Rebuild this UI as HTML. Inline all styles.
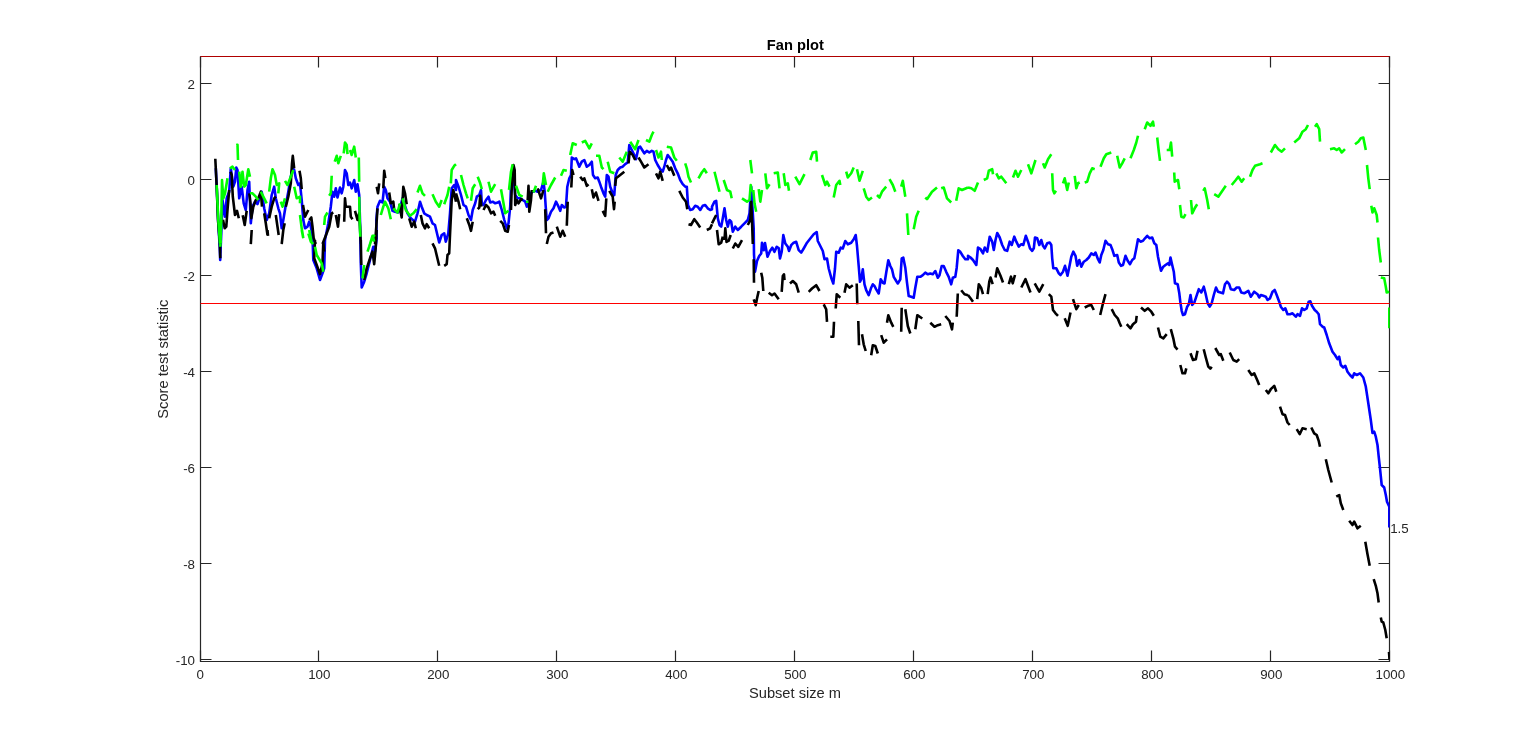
<!DOCTYPE html>
<html lang="en"><head><meta charset="utf-8"><title>Fan plot</title>
<style>html,body{margin:0;padding:0;background:#fff;}body{width:1536px;height:744px;overflow:hidden;}svg{display:block;}text{font-family:"Liberation Sans",Arial,Helvetica,sans-serif;fill:#262626;}</style></head><body>
<svg width="1536" height="744" viewBox="0 0 1536 744">
<rect x="0" y="0" width="1536" height="744" fill="#fff"/>
<g stroke="#262626" stroke-width="1.2" fill="none">
<path d="M200.5 56.5 V661.5 H1389.5 V56.5 H200.5"/>
<path d="M200.5 661.5 v-11 M200.5 56.5 v11"/>
<path d="M318.5 661.5 v-11 M318.5 56.5 v11"/>
<path d="M437.5 661.5 v-11 M437.5 56.5 v11"/>
<path d="M556.5 661.5 v-11 M556.5 56.5 v11"/>
<path d="M675.5 661.5 v-11 M675.5 56.5 v11"/>
<path d="M794.5 661.5 v-11 M794.5 56.5 v11"/>
<path d="M913.5 661.5 v-11 M913.5 56.5 v11"/>
<path d="M1032.5 661.5 v-11 M1032.5 56.5 v11"/>
<path d="M1151.5 661.5 v-11 M1151.5 56.5 v11"/>
<path d="M1270.5 661.5 v-11 M1270.5 56.5 v11"/>
<path d="M1389.5 661.5 v-11 M1389.5 56.5 v11"/>
<path d="M200.5 83.5 h11 M1389.5 83.5 h-11"/>
<path d="M200.5 179.5 h11 M1389.5 179.5 h-11"/>
<path d="M200.5 275.5 h11 M1389.5 275.5 h-11"/>
<path d="M200.5 371.5 h11 M1389.5 371.5 h-11"/>
<path d="M200.5 467.5 h11 M1389.5 467.5 h-11"/>
<path d="M200.5 563.5 h11 M1389.5 563.5 h-11"/>
<path d="M200.5 659.5 h11 M1389.5 659.5 h-11"/>
</g>
<clipPath id="cp"><rect x="200" y="56" width="1189.7" height="605.7"/></clipPath>
<g fill="none" stroke-width="2.6" stroke-linejoin="round" stroke-linecap="butt" clip-path="url(#cp)">
<path stroke="#0000ff" d="M215.8 168.3 L216.7 186.7 L218.3 223.3 L219.7 246.7 L220.2 260 L220.7 246.7 L221.7 223.3 L222.5 200 L225 216.7 L226.7 198.3 L229.2 191.7 L230.8 168.3 L233.3 186.7 L235 181.7 L236.3 167.5 L237.5 170 L239.2 198.3 L241.7 186.7 L243.7 203.3 L245.8 210 L247.5 190 L249.2 181.7 L250.8 223.3 L252.5 206.7 L255 201.7 L257.5 204.2 L261.7 191.7 L264.2 208.3 L266.7 220 L269.2 213.3 L271.7 195 L274.2 186.7 L275.8 198.3 L278.3 208.3 L280 213.3 L281.7 228.3 L283.3 220 L285.8 205 L288.3 191.7 L290.8 176.7 L292.5 168.3 L294.2 170 L295.8 178.3 L298.3 185 L300 183.3 L301.7 200 L303.3 220 L305 228.3 L307.5 226.7 L309.2 221.7 L310.8 226.7 L312.5 236.7 L313.3 260 L316.7 268.3 L320 280 L322.5 273.3 L324.2 268.3 L325 240 L328.3 223.3 L330.8 206.7 L332.5 191.7 L334.2 196.7 L335.8 188.3 L337.5 197.5 L340 187.5 L341.7 193.3 L343.3 186.7 L345 170 L346.7 173.3 L348.3 185 L350 182.5 L351.7 188.3 L354.2 180 L355.8 191.7 L357.5 184.2 L359.2 195 L360 220 L360.8 263.3 L361.7 287.5 L364.2 281.7 L366.7 273.3 L370 260 L373.3 246.7 L375 251.7 L376.7 238.3 L376.3 220 L377.5 206.7 L380 200.8 L382.5 202.5 L384.2 186.7 L385.8 190 L387.5 198.3 L390 201.7 L392.5 210.8 L395 211.7 L398.3 212.5 L400 208.3 L402.5 198.3 L404.2 203.3 L407.5 213.3 L410.8 218.3 L415 221.7 L417.5 213.3 L420 201.7 L421.7 206.7 L424.2 213.3 L426.7 215 L430 216.7 L432.5 223.3 L435 225 L439.2 242.5 L441.7 235 L444.2 233.3 L445.8 241.7 L448.3 233.3 L450 213.3 L451.7 188.3 L454.2 185 L456 190 L456 180 L458.5 186.7 L461 195 L463.5 205 L466 206.7 L468.5 215 L471 220 L472.7 210 L475.2 203.3 L476.8 196.7 L479.3 195 L481 190 L481.8 203.3 L483.5 205 L486 200 L488.5 196.7 L490.2 202.5 L492.7 201.7 L495.2 203.3 L497.7 202.5 L499.3 201.7 L501.8 210 L504.3 220 L506.8 228.3 L508.5 223.3 L510.2 206.7 L511.3 178.3 L513.5 176.7 L515.2 195 L517.7 198.3 L520.2 198.3 L522.7 200 L525.2 201.7 L526.8 206.7 L528.5 203.3 L530.2 193.3 L532.7 191.7 L535.2 190.8 L537.7 191.7 L541 190 L543.5 181.7 L544.7 191.7 L545.7 206.7 L546.8 220 L548.5 218.3 L551 211.7 L553.5 208.3 L556 201.7 L558.5 206.7 L560.2 210.8 L561.8 205 L564.3 207.5 L566 206.7 L567.3 186.7 L569.3 178.3 L571 175 L571.8 157.5 L574.3 159.2 L576 158.3 L579.3 166.7 L581.8 161.7 L584.3 160 L586.8 166.7 L589.3 165 L591.8 161.7 L593 175 L595.2 178.3 L597.7 177.5 L599.3 181.7 L601 186.7 L603.5 193.3 L605.2 196.7 L606.8 175 L608.5 176.7 L610.2 186.7 L612.7 193.3 L614.3 195 L615.7 175 L617.7 170 L620.2 167.5 L622.7 166.7 L625.2 164.2 L627.7 162.5 L629.3 145 L631.8 150 L634.3 155 L636 159.2 L638.5 147.5 L640.2 146.7 L642.7 150.8 L644.3 153.3 L646.8 150.8 L649.3 152.5 L651.8 150.8 L653.5 151.7 L655.2 160 L657.7 165 L660.2 169.2 L662.7 171.7 L664.3 166.7 L666 160 L667.7 155 L670.2 158.3 L672.7 161.7 L675.2 168.3 L677.7 173.3 L680.2 180 L682.7 184.2 L685.2 186.7 L686.8 186.7 L688 205 L690.2 210 L692.7 209.2 L695.2 205.8 L697.7 206.7 L700.2 210 L702.7 205.8 L705.2 205 L707.7 208.3 L710.2 210 L712 209.2 L712 206.7 L714.5 201.7 L716.2 200.8 L717.8 218.3 L719.5 225 L721.2 226.7 L722.8 218.3 L724.5 208.3 L726.2 220 L727.8 226.7 L729.5 220 L731.2 221.7 L732.8 231.7 L735.3 226.7 L737.8 230 L741.2 226.7 L744.5 223.3 L747.8 220 L749.5 213.3 L751.2 186.7 L752.8 213.3 L753.7 228.3 L754 254.3 L755 271.8 L757 261 L759.2 256 L761.2 253.5 L762 242.7 L763.7 250.2 L765 243 L767.5 256.8 L770 251 L772.3 247.7 L774.5 251.8 L776.7 246.8 L778.7 248 L780 258.5 L781.7 251.8 L783.3 235 L785.3 243.5 L787.8 246.8 L789 251 L791.2 245.2 L793.7 242.7 L796.2 241.8 L798.7 250.2 L801.2 252.7 L803.7 248.5 L807 242.7 L810.3 238.5 L813.7 234.3 L816.7 232 L817.8 241 L820.3 246 L822.8 251 L824.5 259.3 L827 258.5 L828.7 268.5 L831.2 277.7 L833.3 283.5 L835 268.5 L836.2 251.8 L838.7 252.7 L840.7 247.7 L842.8 248.5 L845.3 241 L847.8 244.3 L851.2 242.7 L853.7 239.3 L855.7 235 L857 246 L858.7 266 L860 281.8 L861.2 279.3 L862.8 269.3 L864.5 284.3 L866.2 290.2 L868.7 295.2 L871.2 287.7 L872.8 284.3 L874.5 286 L876.2 289.3 L878.7 293.5 L880.7 279.3 L882.8 282.7 L884.5 283.5 L886.2 272.7 L888.3 260.2 L890.3 266 L892 269.3 L893.7 276.8 L896.2 281 L897.8 283.5 L900.3 279.3 L901.7 258.5 L903.3 257.7 L905.3 267.7 L907 282.7 L908.7 296 L911.2 296.8 L913.7 297.7 L915.3 287.7 L917.3 276.8 L920.3 276.8 L922.8 275.2 L925.3 272.7 L927.8 274.3 L930.3 273.5 L932.8 274.3 L935.3 271 L937.8 277.7 L939.5 275.2 L941.7 266 L943.7 266 L946.2 271.8 L948.7 276.8 L951.2 284.3 L952.8 277.7 L955.3 276.8 L956.7 267.7 L958.3 250.2 L960.3 251.8 L962.8 256 L965.3 259.3 L968 259.3 L968 255.8 L970.5 257.5 L973 260 L976.3 265 L978 247.5 L980.5 249.2 L983 253.3 L984.7 247.5 L987.2 251.7 L989.7 236.7 L992.2 241.7 L993.8 250 L995.5 240 L997.2 233 L999.7 237.5 L1002.2 245 L1004.7 250 L1007.2 250.8 L1009.7 241.7 L1011.7 245 L1014.3 236.7 L1016.3 241.7 L1018.8 246.7 L1021.3 244.2 L1023.3 245 L1025.8 235.8 L1028 241.7 L1030 248.3 L1032.2 250.8 L1033.8 248.3 L1035 237.5 L1037.2 238.3 L1039.3 245 L1041.3 240 L1043 245.8 L1044.7 248.3 L1047.2 243.3 L1049.7 242.5 L1051.3 245 L1052.2 258.3 L1053.3 268.3 L1056.3 268.3 L1058.8 273.3 L1060.5 275 L1063 271.7 L1065 265.8 L1067.5 275.8 L1069.7 265 L1071.3 256.7 L1073.3 251.7 L1075.5 255.8 L1077.2 265.8 L1079.3 260 L1081.3 266.7 L1083.8 261.7 L1086.3 260 L1088.8 257.5 L1091.3 253.3 L1093.8 255 L1095.5 252.5 L1098 259.2 L1099.7 262.5 L1101.3 255 L1103.3 250 L1105.5 240.8 L1108 244.2 L1110.5 245 L1112.2 249.2 L1114.3 255.8 L1117.2 255 L1118.8 262.5 L1121 265.8 L1123 265 L1125.5 255.8 L1127.7 260.8 L1130 264.2 L1132.2 260 L1134.3 258.3 L1136 250 L1138 239.2 L1140.5 241.7 L1143 240.8 L1145 238.3 L1147.2 235.8 L1149.7 238.3 L1152.2 237.5 L1154.3 243.3 L1156.3 245 L1158 256.7 L1159.7 265 L1161 270.8 L1163.3 266.7 L1165.5 265 L1168 263.3 L1169.3 265 L1170.5 257.5 L1172.2 265 L1173.8 271.7 L1175 283.3 L1177.7 284.2 L1179.3 293.3 L1180.5 303.3 L1181.7 310.8 L1183 315 L1185 314.2 L1187.2 306.7 L1188.8 304.2 L1190.5 295 L1192.2 305 L1194.3 302.5 L1196.3 296.7 L1198.8 289.2 L1201.3 292.5 L1203.8 286.7 L1205.5 293.3 L1207.7 303.3 L1209.7 306.7 L1211.7 303.3 L1213.8 295 L1216 287.5 L1218 291.7 L1220.5 292.5 L1223 293.3 L1225 284.2 L1227 281.7 L1229.2 284.2 L1230.8 289.2 L1234.2 290 L1236.7 287.5 L1239.2 287.5 L1241.3 292.5 L1244.2 293.3 L1248.3 290.8 L1250.8 296.7 L1254.2 291.7 L1257.5 294.2 L1259.2 297.5 L1260.8 295 L1263.3 295.8 L1265.8 296.7 L1267.5 300 L1270 298.3 L1272.5 291.7 L1274.7 290 L1276.7 295 L1279.2 301.7 L1280.8 306.7 L1283.3 310 L1285.3 308.3 L1287.5 314.2 L1290 314.2 L1292.5 313.3 L1295.8 316.7 L1297.5 314.2 L1300 315.8 L1302 308.3 L1304.2 310 L1306.7 308.3 L1308.7 301.7 L1310.3 301.3 L1312 305.8 L1314.7 310 L1316.7 311.7 L1318.7 314.2 L1320 324.2 L1322.5 326.7 L1324.2 327.5 L1326.7 335 L1329.2 343.3 L1332.5 351.7 L1335 355 L1337.5 359.2 L1339.2 356.7 L1340.8 365 L1343.3 367.5 L1345.3 365.8 L1347.5 371.7 L1350 375 L1352.5 377.5 L1354.2 373.3 L1356.7 375 L1360 373.3 L1363.3 377.5 L1365.8 386.7 L1368.3 403.3 L1370.8 420 L1372.5 433 L1374.2 431.7 L1375.8 436.7 L1377.5 445 L1378.7 456.7 L1380 468.3 L1381.7 485 L1384.2 487.5 L1385.8 495 L1387 501.7 L1389.3 506.7 L1389.3 527.5"/>
<path stroke="#000000" d="M215.3 158.7 L216.7 186.7 L218 220 L219.3 236.7 L220 244 L220.2 253.3 M223 219.7 L224.7 228.3 L226.3 226.7 L227.5 210 L229.2 190 M230.5 171.7 L231.7 175 L232.8 196.7 L235 215 L237 210.8 L238.8 218.3 M242.7 215.3 L244.7 225 L246.7 210.8 M249.3 193.3 L250.5 203.3 L251.3 218.3 L253.3 206.7 L255.8 200 L258.3 198.3 L260.8 191.7 L262 206.7 M264.2 213.3 L265.8 223.3 L267.5 235 M269.2 218.3 L271.7 206.7 L274.2 198.3 L275.8 196.7 M275.8 215 L277.5 226.7 L278.7 235 M281.7 244 L283.3 230 L284.7 223.3 M285.8 206.7 L288.3 196.7 L290.8 183.3 L292 163.3 L292.8 155.8 L294.2 168.3 M299.5 170.8 L300.8 178.3 L301.7 189.2 M303 205 L305 216.7 L308.3 210 M309.2 220 L311.3 217.5 L312.5 226.7 L313.7 238.3 L315.8 244 M322.5 244 L326.7 233.3 L329.2 226.7 L331.7 213.3 L333.3 212.5 M335.8 215 L338 226.7 L339.2 214.2 M344.2 221.7 L345 198.3 L345.8 206.7 L350 206.7 L350.8 216.7 L352.5 219.2 M355 210.8 L357.5 220 L359.2 213.3 L360 226.7 L360.8 244 M375 244 L376.3 226.7 L377.5 208.3 M376.7 186.7 L378 193.3 L379.2 183.3 M383.3 188.3 L384.2 170.8 L385.3 178.3 M389.2 192.5 L390.8 203.3 L393.3 201.7 L394.2 210 M399.2 204.2 L401.7 217.5 L403.3 186.7 L405 193.3 L406.7 204.2 M409.2 218.3 L411.7 226.7 L414.2 221.7 L415.8 228.3 M420.8 215 L422.5 223.3 L425 228.3 L426.7 224.2 L429.2 228.3 M450 235 L451.7 200 L453.3 190 L456 201.7 M219.7 240 L220.3 258.3 M251.7 230 L250.8 244.2 M267.5 230 L268 235.8 M281.7 244.2 L283.3 230 M315 240 L314.2 258.3 L316.7 265 L320 274.2 L322.5 263.3 L323.3 241.7 L324.2 251.7 M360.8 240 L361.3 265 M364.2 280 L366.7 268.3 L370 258.3 L372.5 251.7 L374.2 264.2 L375.8 246.7 L376.7 230 M432.5 243.3 L435 248.3 L439.2 265.8 M444.2 265.8 L446.7 264.2 L447.5 255 L449.2 253.3 L450 235 M456 193.3 L458.5 201.7 L460.2 209.2 M466.8 218.3 L469.3 225 L471 230.8 L472.7 221.7 M477.7 209.2 L479.3 207.5 L480.2 195.8 L481.3 206.7 M483.5 210 L486 205 L488.5 207.5 L491 213.3 L493.5 211.7 L495.2 215.8 M500.2 220.8 L502.7 223.3 L505.2 230.8 L507.7 231.7 L509 225 M511 210 L511.8 186.7 L513.5 165 L514.7 170 L515.2 205 L516.8 200 L518.5 203.3 L521 199.2 L522.7 200 M527.7 200 L528.5 185.8 L529.3 211.7 L531 200 L531.8 190 M537.7 188.3 L541 198.3 L543.5 190 M545.2 209.2 L546 233.3 M546.8 244 L548.5 236.7 L551 233.3 L553.5 232.5 M556.8 226.7 L560.2 236.7 L562.7 230.8 L565.2 236.7 M566.8 225.8 L567.7 201.7 M571.3 187.5 L572.2 170 L573.5 175 M580.2 176.7 L582.7 180 L584.3 178.3 L586.8 185.8 L588.5 184.2 M591.8 189.2 L593.5 197.5 L596 192.5 L598.5 200.8 M602.7 210.8 L605.2 215.8 L606.3 198.3 M609.3 190.8 L612.7 196.7 L614 209.2 L614.7 201.7 M615.2 185.8 L616 178.3 L620.2 175 L624.3 171.7 M628.5 163.3 L629.7 151.7 L632.7 155 L635.2 160 M638.5 157.5 L641 161.7 L644.3 167.5 L648.5 164.2 M656 173.3 L658.5 178.3 L660.2 171.7 L662.7 180.8 M666.8 165 L669.3 170 L671 167.5 L674.3 175.8 M679.3 190.8 L682.7 197.5 L686 201.7 L687.3 209.2 M688.5 224.2 L691 225 L694.3 219.2 L696.8 222.5 L700.2 227.5 M706.8 230 L710.2 228.3 L712 224.2 M712 223.3 L714.5 218.3 L716.2 215 M747.8 225 L750.3 220 L751.2 201.7 L752 220 L752.8 244 M717 230 L718.7 244.3 L721.2 242.7 L722.8 236.7 M724.5 240 L725.3 228.3 L726.5 242 L728.7 240.7 L730.7 235 M732.8 248.5 L735.3 243.5 L738.3 246.8 L742 240.2 M753.7 259.3 L754 282.7 M753.7 299.3 L755.7 305.2 L757 298.5 L758.7 291 M761.2 272.7 L762.3 277.7 L763.3 291 M768.7 292.7 L772 295.2 L774.5 293.5 L778.7 299.3 M781.7 291.8 L782.8 276 L784 274.3 L784.5 280.2 M790 283.5 L792.8 281 L796.2 284.3 L798.7 292.7 M808.7 291.8 L812 288.5 L816.2 285.2 L819.5 291 M823.7 304.3 L826.2 309.3 L827 321.8 M830.3 336.8 L833.3 336.8 L834 321.8 M835.7 308.5 L836.7 294.3 L840.3 297.7 M844.5 292.7 L846.2 284.3 L849.5 287.7 L852.8 285.2 M856.7 283.5 L857.3 304.3 M858.3 321 L859 345.2 M862 334.3 L863.7 344.3 L865.7 351 M871.2 355.2 L872.8 345.2 L875.3 346 L877.8 353.5 M881.2 335.2 L883.7 342.7 L887 339.3 M887 322.7 L888.3 315.2 L891.2 322.7 L893.3 326.8 M901.2 331.8 L901.7 307.7 M905.3 309.3 L907.8 326 L910.3 333.5 M915.3 329.3 L917.3 315.2 L922.3 318.5 M930.3 322.7 L934.5 326.8 L937.8 325.2 L941.2 324.3 M945.3 316 L949.5 321 L952 329.3 L952.8 322.7 M956.7 316.8 L957.8 293.5 M961.2 290.2 L964.5 294.3 L968 295.2 M968 295 L970.5 298.3 L973 301.7 M977.2 299.2 L978.8 284.2 L981.3 288.3 L983 294.2 M987.7 294.2 L989.3 281.7 L990.5 277.5 L992.7 284.2 M995.5 277.5 L997.2 268.3 L1000.5 275.8 L1003 282.5 M1008.8 284.2 L1011 276.7 L1012.7 283.3 L1015 275 M1021.3 287.5 L1025.5 279.2 L1028.3 286.7 L1030.5 292.5 M1034.7 283.3 L1039.3 291.7 L1043.3 284.2 M1048.8 294.2 L1051.3 296.7 L1053 310 L1055.5 313.3 L1058 315.8 M1064.7 318.3 L1067.7 325.8 L1070.5 312.5 M1073 299.2 L1076.3 309.2 L1078.8 305 M1084.7 307.5 L1088 305.8 L1091.3 305 L1093.8 310 M1100.2 315 L1103 303.3 L1105.5 294.2 M1111.7 309.2 L1114.7 315 L1117.7 318.3 L1119.7 323.3 L1121.3 326.7 M1126.7 324.2 L1130.5 328.3 L1133 324.2 L1136 321.7 L1136.7 315.8 M1141 307.5 L1144.7 310.8 L1148 308.3 L1151.3 311.7 L1153.8 315.8 M1158 327.5 L1160.3 336.7 L1163.3 338.3 L1166.7 334.2 M1170.8 329.2 L1173.3 338.3 L1175 346.7 L1177.5 349.7 M1180.3 365 L1182.5 373.3 L1185 373.3 L1186.3 368.3 M1190.5 353.3 L1193 360 L1195.8 359.2 L1197.5 350.8 M1203.7 349.2 L1205.8 357.5 L1208.3 366.7 L1210.3 368.7 L1211.7 366.7 M1215.3 348 L1219.2 355 L1220.8 354.2 L1223.3 360.8 M1229.7 352.5 L1233.3 360 L1236.7 361.7 L1239.2 359.2 M1248.3 370 L1251.7 375 L1254.2 373.3 L1257.5 380.8 L1259.2 385 M1265.8 390 L1268.3 393.3 L1270.8 389.2 L1274.2 385.8 L1276.3 391.7 M1280 406.7 L1282.5 414.2 L1285 415 L1287.5 422.5 L1289.7 425 M1296.7 429.2 L1299.7 434.2 L1302.5 428.3 L1306.7 429.2 M1311.3 427.5 L1314.2 433.3 L1316.7 435 L1318.7 440.8 L1320 446.7 M1325.8 459.2 L1328.3 470 L1331.7 482.5 M1336.3 496.7 L1339.2 495 L1340.8 503.3 L1343.3 510 M1349.2 520.8 L1352.5 525 L1354.2 521.7 L1357.5 528.3 L1360.8 525.8 M1365.3 541.7 L1367.5 554.2 L1369.7 565.8 M1373.7 579.2 L1375.8 585.8 L1377.5 593.3 L1378.7 602.5 M1380.8 617.5 L1381.7 621.7 L1383.3 622.5 L1385.3 630 L1386.7 638.3 M1389 652 L1389.5 659.3"/>
<path stroke="#00ff00" d="M216.7 185 L218.3 220 L220 243.3 M220.3 246.7 L221.3 220 L222 180 L223.3 198.3 L225 193.3 L227.5 178.3 M230 168.3 L232.5 166.7 L235 170 M236.2 145 L237.5 144.7 L238 160 M239.2 171.7 L240.8 186.7 L242.5 171.7 L244.2 186.7 L245.8 185 L248.3 169.2 L250 176.7 M250 193.3 L252.5 193.3 L255.8 196.7 L258.3 200 M260.8 191.7 L264.2 198.3 L266.7 203.3 M269.2 191.7 L270.8 178.3 L272.5 169.2 L275 175 L276.7 185 L279.2 183.3 L278.3 193.3 M280.8 201.7 L282.5 206.7 L285 198.3 M285 180.8 L287.5 185 L290.8 176.7 L293.3 170 M294.2 186.7 L296.7 198.3 L300 196.7 L300 203.3 M300 215 L301.7 228.3 L303.3 238.3 M308.3 233.3 L310.8 241.7 L313.3 244 M324.2 225 L325 216.7 L327.5 212.5 M329.2 195.8 L330.8 193.3 L331.7 175.8 M334.7 161.7 L336.7 155.8 L338.3 163.3 L340.8 155.8 M343.7 153.3 L345 142.5 L346.7 145 L347.5 154.2 M350 150 L351.7 155 L354.2 146.7 L355.8 157.5 M358.8 157.5 L359.2 181.7 M359.2 196.7 L359.7 220 L360.3 236.7 M370 244 L372.5 236.7 L375 235 M380.8 215 L383.3 206.7 L385 201.7 L388.3 208.3 L390.8 219.2 M393.3 208.3 L397.5 212.5 L400 203.3 M402.5 198.3 L405.8 210 L410 215.8 L413.3 213.3 L416.7 209.2 M417.5 192.5 L420 185.8 L422.5 193.3 L425 195.8 M432.5 194.2 L435.8 201.7 L439.2 206.7 L441.7 200 M444.2 204.2 L447.5 195 L449.2 186.7 M450.8 183.3 L451.7 170 L454.2 165.8 L456 164.2 M220 230 L220.8 243.3 M301.7 230 L303.3 238.3 M309.2 230 L311.7 243.3 M315 246.7 L316.7 255 L321.7 263.3 L323.3 271.7 M362.5 278.3 L364.2 265 M367.5 251.7 L369.2 246.7 L372.5 235.8 L374.2 241.7 M461 175 L463.5 185 L466 193.3 L467.7 198.3 M471 200.8 L472.7 188.3 L475.2 184.2 M477.7 176.7 L480.2 183.3 L481.8 189.2 M488.5 181.7 L491 191.7 L495.2 184.2 M501 189.2 L503.5 203.3 L505.2 213.3 L508.5 210.8 M509 190 L511 171.7 L512.7 164.2 M516 185.8 L519.3 195 L522.7 196.7 M526 201.7 L528.5 201.7 M533.5 192.5 L536 185.8 M542.7 185 L543.8 173.3 L546 185 M547.7 191.7 L551 185 L555.2 177.5 M561 175.8 L563.5 170 L566.8 170.8 M570.2 155 L572.7 143.3 L576.8 145 M581.8 142.5 L585.2 140.8 L589.3 148.3 L591.8 143.3 M596 155.8 L599.3 155.8 L601.8 167.5 L603.5 169.2 M607.7 161.7 L610.2 171.7 L614.3 173.3 M619.3 157.5 L622.7 161.7 L626.8 151.7 M630.2 141.7 L635.2 149.2 L638.5 140 M646 140 L649.3 141.7 L651.8 135 L653.5 131.7 M656 150 L658.5 157.5 L661 151.7 L661.8 160 M666.8 146.7 L671 147.5 L674.3 157.5 L676.8 160.8 M685.2 163.3 L686.8 168.3 L688.5 176.7 L691 182.5 M698.5 178.3 L701.8 172.5 L704.3 169.2 L706.8 173.3 M714.5 171.7 L717 181.7 L719.5 191.7 M723.7 180 L727 190 L730.3 191.7 L731.7 198.3 M742 198.3 L747 201.7 L749.5 200 L750.7 185 L751.7 191.7 M750.3 160 L752 173.3 M753.3 190 L754.5 203.3 L756.2 211.7 M758.7 189.2 L760.3 201.7 L762 190 M765.3 173.3 L767 188.3 L769.5 184.2 M773.7 173.3 L777.8 172.5 L779.5 188.3 M783.7 173.3 L785.3 185 L787.8 183.3 L789 190.8 M795.3 176.7 L799.5 184.2 L804.5 174.2 M810.3 160 L812.8 152.5 L816.2 151.7 L817 161.7 M822 175 L825.3 185 L827 181.7 L829.5 186.7 M833.7 197.5 L836.2 185 L839.5 180.8 L840.3 185 M846.2 171.7 L847.8 177.5 L851.2 173.3 L853.7 167.5 M857 169.2 L859.5 180.8 L862.8 170.8 M863.7 188.3 L866.2 196.7 L868.7 200 L872 197.5 M877 195 L879.5 197.5 L882 191.7 L886.2 186.7 M889.5 179.2 L892.8 185 L895.3 191.7 M901.2 186.7 L902.8 180.8 L905.3 196.7 M907 213.3 L907.8 226.7 L908.3 235 M913.7 229.2 L916.2 216.7 L918.7 210.8 M925.3 197.5 L927 199.2 L932 191.7 L937 187.5 M941.2 188.3 L943.7 187.5 L947 198.3 L951.2 202.5 M956.2 200.8 L958.7 188.3 L962 190 L968 187.5 M968 187.5 L971.3 188.3 L974.7 190.8 L978 182.5 M983.8 180 L987.2 178.3 L988.8 170.8 L992.2 169.2 L993 174.2 M996.3 173.3 L998.8 178.3 L1001.3 176.7 L1006.3 183.3 M1013 177.5 L1015.5 170.8 L1018 176.7 L1021.3 170 M1028 164.2 L1031.3 173.3 L1035.5 160 M1043 163.3 L1044.7 167.5 L1048 159.2 L1051.3 154.2 M1052.2 173.3 L1053 190 L1054.3 193.3 L1056 190.8 M1063 183.3 L1064.7 178.3 L1067.2 190 L1068.8 182.5 M1074.7 175.8 L1076.3 188.3 L1078 183.3 L1079.7 182.5 M1084.7 182.5 L1087.2 181.7 L1089.7 173.3 L1092.2 168.3 L1094.7 169.2 M1100.5 166.7 L1103.8 158.3 L1106.3 154.2 L1111.3 152.5 M1117.2 155.8 L1119.7 167.5 L1122.2 163.3 L1124.7 158.3 M1130.5 158.3 L1133.8 150 L1136.3 142.5 L1138 135.8 M1144.7 129.2 L1147.2 122.5 L1150.5 125.8 L1153 121.7 L1153.8 126.7 M1157.2 137.5 L1158.8 151.7 L1160 160.8 M1166.7 150 L1169.7 150 L1171 142.5 L1172.2 156.7 M1174.2 172.5 L1174.7 181.7 L1178 180 L1179.3 189.2 M1180 205 L1181.3 216.7 L1183.8 217.5 L1185.5 214.2 M1191 200 L1192.2 213.3 L1194.7 208.3 L1197.2 204.2 M1203.3 190.8 L1204.7 188.3 L1207.2 200 L1208.8 209.2 M1214.2 194.2 L1218.3 196.7 L1221.7 191.7 L1225.8 185.8 M1231.7 185 L1235.8 180 L1238.3 176.7 L1241.7 181.7 L1244.2 178.3 M1250 176.7 L1252.5 170 L1255 165.8 L1260 164.2 L1262.5 163.3 M1270.8 152.5 L1275 145 L1278.3 149.2 L1281.7 151.7 L1285 148.3 M1294.2 142.5 L1299.2 138.3 L1302.5 131.7 L1305.8 129.2 L1308 125 M1315 126.7 L1316.7 124.2 L1319.2 129.2 L1320 141.7 M1330 149.2 L1334.2 148.3 L1336.7 150 L1339.2 148.3 L1341.7 152.5 L1345 149.2 M1355 144.2 L1358.3 141.7 L1360.8 138.3 L1363.3 137.5 L1365.8 150 M1367 165 L1368.3 178.3 L1369.7 189.2 M1371.3 205.8 L1372.5 212.5 L1374.2 208.3 L1376.7 215 L1377.5 222.5 M1376.7 215 L1377.5 222.5 M1378 237.5 L1379.2 250 L1380.8 262.5 M1380.8 277.5 L1384.2 278.3 L1385.8 286.7 L1386.7 292.5 L1389.2 291.7 M1389.3 307.5 L1389.3 328.3"/>
</g>
<line x1="200.5" y1="303.5" x2="1389.5" y2="303.5" stroke="#ff0000" stroke-width="1"/>
<line x1="200.5" y1="56.5" x2="1389.5" y2="56.5" stroke="#b00000" stroke-width="1"/>
<g font-size="13.33px">
<text x="200.3" y="679" text-anchor="middle">0</text>
<text x="319.3" y="679" text-anchor="middle">100</text>
<text x="438.3" y="679" text-anchor="middle">200</text>
<text x="557.3" y="679" text-anchor="middle">300</text>
<text x="676.3" y="679" text-anchor="middle">400</text>
<text x="795.3" y="679" text-anchor="middle">500</text>
<text x="914.3" y="679" text-anchor="middle">600</text>
<text x="1033.3" y="679" text-anchor="middle">700</text>
<text x="1152.3" y="679" text-anchor="middle">800</text>
<text x="1271.3" y="679" text-anchor="middle">900</text>
<text x="1390.3" y="679" text-anchor="middle">1000</text>
<text x="195" y="89.3" text-anchor="end">2</text>
<text x="195" y="185.3" text-anchor="end">0</text>
<text x="195" y="281.3" text-anchor="end">-2</text>
<text x="195" y="377.3" text-anchor="end">-4</text>
<text x="195" y="473.3" text-anchor="end">-6</text>
<text x="195" y="569.3" text-anchor="end">-8</text>
<text x="195" y="665.3" text-anchor="end">-10</text>
<text x="1390.2" y="533.3" text-anchor="start">1.5</text>
</g>
<text x="795" y="698" text-anchor="middle" font-size="14.67px">Subset size m</text>
<text transform="translate(168,359.2) rotate(-90)" text-anchor="middle" font-size="14.67px">Score test statistic</text>
<text x="795.3" y="50" text-anchor="middle" font-size="14.67px" font-weight="bold" fill="#000" style="fill:#000">Fan plot</text>
</svg></body></html>
